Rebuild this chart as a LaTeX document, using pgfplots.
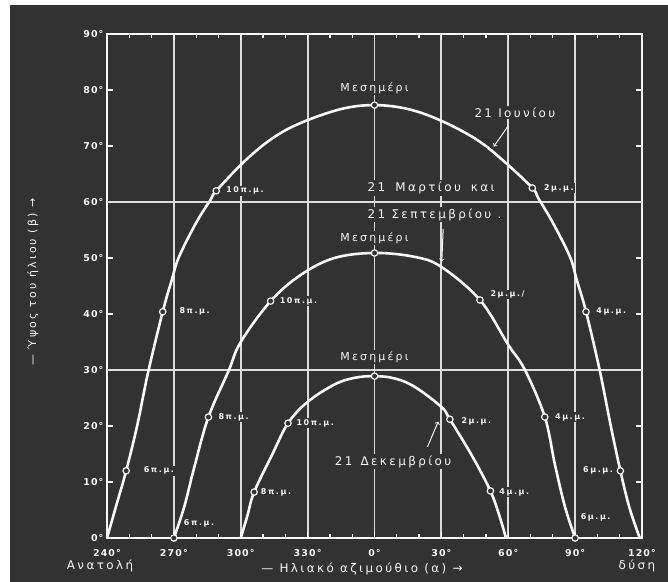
\documentclass[border=0pt]{standalone}
\usepackage{pgfplots}
\pgfplotsset{compat=1.18}
\usepackage{fontspec}
\setmainfont{DejaVu Sans}
\newfontfamily\lbl[LetterSpace=20]{DejaVu Sans}
\newfontfamily\tlbl[LetterSpace=12]{DejaVu Sans}
\definecolor{bgc}{RGB}{50,50,50}
\definecolor{fg}{RGB}{248,248,248}
\definecolor{gridc}{RGB}{220,220,220}
\newcommand{\hr}{\lbl\bfseries\fontsize{8}{9}\selectfont}
\newcommand{\bl}{\lbl\fontsize{12}{13}\selectfont}
\tikzset{
  hlab/.style={fill=bgc, inner sep=1bp, text=fg, font=\hr},
  blab/.style={fill=bgc, inner sep=1.5bp, text=fg, font=\bl},
}
\begin{document}
\begin{tikzpicture}
\useasboundingbox (-107bp,-44bp) rectangle (561bp,538bp);
\fill[white] (-107bp,-44bp) rectangle (561bp,538bp);
\fill[bgc] (-97bp,-44bp) rectangle (561bp,533bp);
\begin{axis}[
  at={(0,0)}, anchor=south west,
  scale only axis, width=535bp, height=504bp,
  xmin=-120, xmax=120, ymin=0, ymax=90,
  clip=false,
  axis line style={fg, line width=2.4bp},
  every tick/.style={fg, line width=1.3bp},
  major tick length=6bp, minor tick length=4bp,
  xtick={-120,-90,...,120},
  xticklabels={240°,270°,300°,330°,0°,30°,60°,90°,120°},
  minor x tick num=2,
  ytick={0,10,...,90},
  yticklabels={0°,10°,20°,30°,40°,50°,60°,70°,80°,90°},
  xmajorgrids,
  extra y ticks={30,60}, extra y tick labels={},
  extra y tick style={grid=major, major tick length=0pt},
  major grid style={gridc, line width=1.8bp},
  ticklabel style={text=fg, font=\tlbl\bfseries\fontsize{9.5}{10}\selectfont},
  xticklabel style={yshift=-8bp},
  every axis plot/.append style={fg, line width=2.6bp},
]
% 21 June
\addplot[smooth, tension=0.6] coordinates {
(-120,0) (-115.7,6) (-111.4,12) (-106.5,20) (-101.6,29.5) (-95,40.4) (-91,46) (-87.7,50.2)
(-80,56.3) (-73.4,60.5) (-71,62) (-57.7,67.5) (-45.7,71.4) (-33.2,74.1) (-15,76.6) (0,77.3)
(15,76.6) (30,74.5) (46,71.1) (58,67.3) (70.8,62.5) (73.6,60.6) (80,56.3)
(87.7,50.2) (90.8,46) (94.9,40.4) (101,30) (106,20) (110.3,12) (114.3,5.5) (119,0)};
% 21 March / September
\addplot[smooth, tension=0.6] coordinates {
(-90,0) (-85.4,5.5) (-80.8,12.7) (-74.5,21.6) (-65.5,29.8) (-60,35) (-46.6,42.3)
(-33,47) (-18,50) (0,50.9) (18,50.2) (30,48.4) (47.3,42.5) (60,34.5) (67.5,30)
(76.4,21.6) (81,13) (85.5,5.5) (90,0)};
% 21 December
\addplot[smooth, tension=0.6] coordinates {
(-60,0) (-57,4) (-54,8.2) (-46,14.8) (-38.8,20.5) (-30,24.3) (-18,27.4) (-9,28.6)
(0,28.9) (9,28.5) (18,27) (30,23.4) (33.8,21.2) (44,14.5) (52,8.4) (56,4) (59,0)};
% hour marks
\addplot[only marks, mark=*, mark size=3.2bp, mark options={draw=fg, fill=bgc, line width=1.2bp}] coordinates {
(-111.4,12) (-95,40.4) (-71,62) (0,77.3) (70.8,62.5) (94.9,40.4) (110.3,12)
(-90,0) (-74.5,21.6) (-46.6,42.3) (0,50.9) (47.3,42.5) (76.4,21.6) (90,0)
(-54,8.2) (-38.8,20.5) (0,28.9) (33.8,21.2) (52,8.4)};
% hour labels - June
\node[hlab, anchor=west] at (axis cs:-104,12) {6π.μ.};
\node[hlab, anchor=west] at (axis cs:-88,40.4) {8π.μ.};
\node[hlab, anchor=west] at (axis cs:-67,62) {10π.μ.};
\node[hlab, anchor=west] at (axis cs:75.5,62.5) {2μ.μ.};
\node[hlab, anchor=west] at (axis cs:99,40.4) {4μ.μ.};
\node[hlab, anchor=east] at (axis cs:107.5,12) {6μ.μ.};
% March
\node[hlab, anchor=west] at (axis cs:-86,2.6) {6π.μ.};
\node[hlab, anchor=west] at (axis cs:-70.5,21.6) {8π.μ.};
\node[hlab, anchor=west] at (axis cs:-43,42.3) {10π.μ.};
\node[hlab, anchor=west] at (axis cs:51.5,43.5) {2μ.μ.\,/};
\node[hlab, anchor=west] at (axis cs:80.5,21.6) {4μ.μ.};
\node[hlab, anchor=west] at (axis cs:92,3.6) {6μ.μ.};
% December
\node[hlab, anchor=west] at (axis cs:-51.5,8.2) {8π.μ.};
\node[hlab, anchor=west] at (axis cs:-35.5,20.5) {10π.μ.};
\node[hlab, anchor=west] at (axis cs:38.5,20.8) {2μ.μ.};
\node[hlab, anchor=west] at (axis cs:55.5,8.2) {4μ.μ.};
% noon labels
\node[blab, font=\lbl\fontsize{11}{12}\selectfont] at (axis cs:0,80.4) {Μεσημέρι};
\node[blab, font=\lbl\fontsize{11}{12}\selectfont] at (axis cs:0,53.6) {Μεσημέρι};
\node[blab, font=\lbl\fontsize{11}{12}\selectfont] at (axis cs:0,32.3) {Μεσημέρι};
% curve labels
\node[blab] at (axis cs:63,76) {21 Ιουνίου};
\draw[fg, line width=1bp, ->] (axis cs:60,73.6) -- (axis cs:53.5,69.9);
\node[blab, anchor=west] at (axis cs:-3.8,62.5) {21\hspace{10bp}Μαρτίου\hspace{10bp}και};
\node[blab, anchor=west] at (axis cs:-3.8,57.7) {21 Σεπτεμβρίου .};
\draw[fg, line width=1bp, ->] (axis cs:30.8,55.2) -- (axis cs:30.2,49.4);
\node[blab, anchor=west] at (axis cs:-18.5,13.6) {21\hspace{8bp}Δεκεμβρίου};
\draw[fg, line width=1bp, ->] (axis cs:23.8,16.3) -- (axis cs:28.6,20.8);
\end{axis}
\node[rotate=90, text=fg, font=\lbl\fontsize{11}{12}\selectfont] at (-74bp,256bp) {— Ύψος του ήλιου (β) →};
\node[text=fg, font=\lbl\fontsize{12}{13}\selectfont] at (255bp,-31bp) {— Ηλιακό αζιμούθιο (α) →};
\node[text=fg, font=\lbl\fontsize{12}{13}\selectfont] at (-7bp,-28bp) {Ανατολή};
\node[text=fg, font=\lbl\fontsize{12}{13}\selectfont] at (530bp,-28bp) {δύση};
\end{tikzpicture}
\end{document}
